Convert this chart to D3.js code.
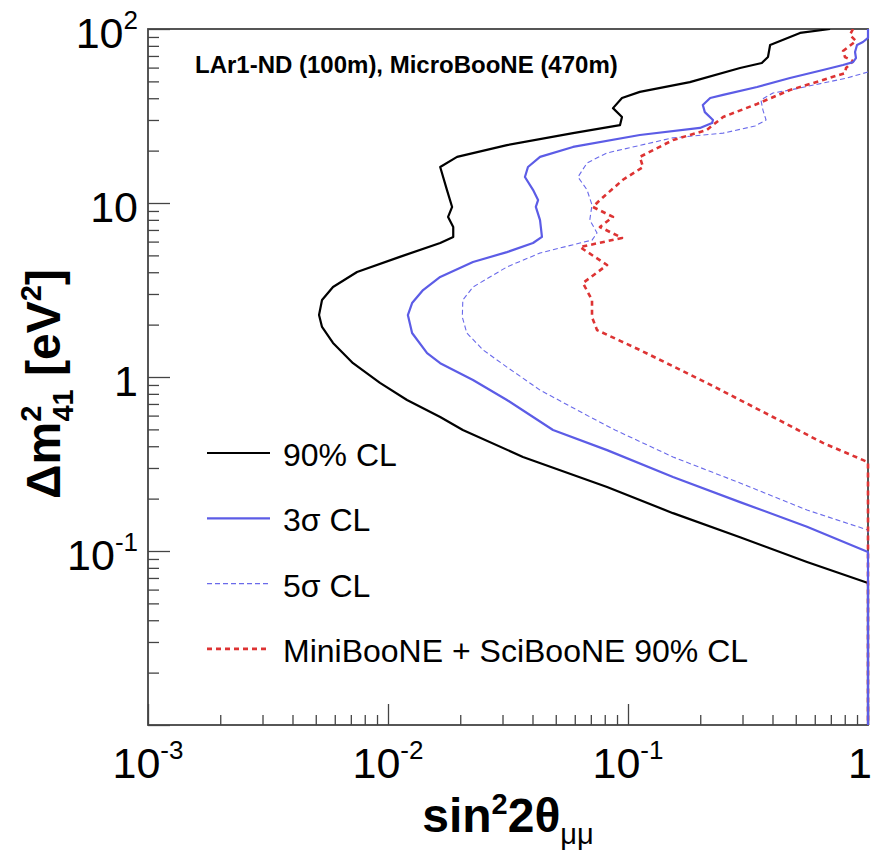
<!DOCTYPE html>
<html>
<head>
<meta charset="utf-8">
<script src="https://cdn.jsdelivr.net/npm/d3@7"></script>
<style>
  body { margin: 0; background: #fff; }
  text { font-family: "Liberation Sans", Arial, Helvetica, sans-serif; }
</style>
</head>
<body>
<svg id="chart" width="873" height="858"></svg>
<script>
/* Contours: [sin^2 2theta, dm^2 (eV^2)] */

var CL90 = [[0.695,100],[0.521,94.9],[0.391,80.9],[0.383,69.0],[0.361,63.8],[0.293,59.7],
            [0.181,49.5],[0.112,43.5],[0.0944,40.1],[0.0866,35.1],[0.0944,31.2],[0.0926,28.0],
            [0.059,25.2],[0.0313,21.5],[0.0194,18.4],[0.0165,16.1],[0.0176,11.9],[0.0185,9.49],
            [0.0178,8.32],[0.0187,7.28],[0.0187,6.38],[0.0165,5.89],[0.0112,4.90],[0.00743,4.01],
            [0.0059,3.29],[0.00531,2.77],[0.00516,2.27],[0.00531,1.94],[0.0059,1.57],[0.00715,1.20],
            [0.00926,0.925],[0.0120,0.738],[0.0165,0.589],[0.0205,0.496],[0.0365,0.347],
            [0.0818,0.233],[0.154,0.165],[0.293,0.120],[0.557,0.0865],[1,0.0655],[1,0.01]];

var SIGMA3 = [[1,100],[1,88.8],[0.953,84.2],[0.90,80.9],[0.883,73.8],[0.891,68.1],[0.866,64.5],
              [0.787,62.1],[0.649,58.1],[0.473,52.3],[0.345,46.4],[0.249,41.8],[0.220,40.1],
              [0.205,36.6],[0.209,33.3],[0.226,30.0],[0.224,28.8],[0.1995,27.0],[0.112,24.6],
              [0.059,21.0],[0.0430,18.4],[0.0383,16.1],[0.0372,14.1],[0.0402,11.9],[0.0422,10.4],
              [0.0413,9.49],[0.0430,7.98],[0.0438,6.38],[0.0402,5.89],[0.0313,5.22],[0.0226,4.58],
              [0.0165,3.76],[0.0140,3.16],[0.0126,2.66],[0.0121,2.27],[0.0126,1.79],[0.01455,1.37],
              [0.0165,1.20],[0.0226,0.962],[0.0313,0.738],[0.0487,0.496],[0.0818,0.380],
              [0.154,0.266],[0.293,0.191],[0.557,0.138],[1,0.0987],[1,0.01]];

var SIGMA5 = [[1,56.6],[0.818,52.3],[0.473,44.6],[0.402,42.9],[0.358,39.1],[0.365,34.2],
              [0.376,30.0],[0.338,27.7],[0.249,25.2],[0.154,23.7],[0.0818,19.4],[0.0675,17.0],
              [0.0619,14.1],[0.0675,11.9],[0.0708,9.75],[0.0693,7.98],[0.0743,6.73],[0.0708,6.12],
              [0.0631,5.89],[0.0430,5.16],[0.0313,4.29],[0.0226,3.29],[0.0205,2.77],[0.0204,2.21],
              [0.0213,1.79],[0.0249,1.43],[0.0313,1.14],[0.0430,0.841],[0.0695,0.589],
              [0.0883,0.496],[0.154,0.347],[0.293,0.246],[0.557,0.172],[1,0.132],[1,0.01]];

var MINISCI = [[0.866,100],[0.841,92.4],[0.891,85.3],[0.787,74.8],[0.802,69.0],[0.866,65.4],
               [0.810,59.7],[0.802,55.8],[0.649,50.9],[0.473,44.6],[0.345,37.1],[0.249,31.2],
               [0.213,26.3],[0.154,23.0],[0.112,18.4],[0.1155,16.1],[0.0953,13.6],[0.0764,10.4],
               [0.0714,9.49],[0.0866,8.32],[0.0764,7.28],[0.0944,6.30],[0.0631,5.58],[0.0818,4.40],
               [0.0649,3.47],[0.0708,2.77],[0.0708,2.21],[0.0743,1.86],[0.112,1.43],[0.213,0.925],
               [0.402,0.589],[0.649,0.418],[1,0.324],[1,0.01]];

/* Labels */

var HEADER = "LAr1-ND (100m), MicroBooNE (470m)";
var LEGEND_LABELS = ["90% CL", "3\u03c3 CL", "5\u03c3 CL", "MiniBooNE + SciBooNE 90% CL"];
var X_TICKS = [1e-3, 1e-2, 1e-1, 1],
    X_TICK_LABELS = [["10","-3"], ["10","-2"], ["10","-1"], ["1",""]];
var Y_TICKS = [100, 10, 1, 0.1],
    Y_TICK_LABELS = [["10","2"], ["10",""], ["1",""], ["10","-1"]];

/* Measures */

var W = 873,
    H = 858;

var FRAME = { left: 148, right: 868, top: 29, bottom: 725 };

var MAJOR_TICK = 21,
    MINOR_TICK = 10,
    LABEL_SIZE = 43,
    EXP_SIZE   = 26,
    TITLE_SIZE = 48,
    LEGEND_SIZE = 32;

var LEGEND = { x1: 207, x2: 270, textX: 283, top: 453, lineheight: 65.3 };

/* Styles */

var STYLES = [
  { data: CL90,    color: "#000000", width: 2.2, dash: null },
  { data: SIGMA3,  color: "#5c5ce6", width: 2.2, dash: null },
  { data: SIGMA5,  color: "#6a6aea", width: 1.1, dash: "5,3" },
  { data: MINISCI, color: "#dd3333", width: 2.6, dash: "5,4" }
];
var DRAW_ORDER = [0, 2, 3, 1];

var svg = d3.select("#chart");

var x = d3.scaleLog().domain([1e-3, 1]).range([FRAME.left, FRAME.right]);
var y = d3.scaleLog().domain([0.01, 100]).range([FRAME.bottom, FRAME.top]);

function minorTicks(scale) {
	var d = scale.domain(), out = [];
	for (var e = Math.log10(d[0]); e < Math.log10(d[1]); e++)
		for (var k = 2; k < 10; k++) out.push(k * Math.pow(10, e));
	return out;
}

svg.append("defs").append("clipPath").attr("id", "plotclip")
	.append("rect")
	.attr("x", FRAME.left).attr("y", FRAME.top)
	.attr("width", FRAME.right - FRAME.left + 2).attr("height", FRAME.bottom - FRAME.top);

/* frame */
svg.append("rect")
	.attr("x", FRAME.left).attr("y", FRAME.top)
	.attr("width", FRAME.right - FRAME.left).attr("height", FRAME.bottom - FRAME.top)
	.attr("fill", "none").attr("stroke", "#444").attr("stroke-width", 1.8);

/* ticks, pointing inward */
function drawAxis(axis, ticks, size, transform) {
	var g = svg.append("g").attr("transform", transform)
		.call(axis.tickValues(ticks).tickSize(size).tickFormat(""));
	g.select(".domain").remove();
	g.selectAll("line").attr("stroke", "#444").attr("stroke-width", 1.3);
}
drawAxis(d3.axisBottom(x), X_TICKS, -MAJOR_TICK, "translate(0," + FRAME.bottom + ")");
drawAxis(d3.axisBottom(x), minorTicks(x), -MINOR_TICK, "translate(0," + FRAME.bottom + ")");
drawAxis(d3.axisLeft(y), Y_TICKS.concat([0.01]), -MAJOR_TICK - 1, "translate(" + FRAME.left + ",0)");
drawAxis(d3.axisLeft(y), minorTicks(y), -MINOR_TICK - 1, "translate(" + FRAME.left + ",0)");

/* curves */
var line = d3.line()
	.x(function(d) { return x(d[0]); })
	.y(function(d) { return y(d[1]); });

svg.append("g").attr("clip-path", "url(#plotclip)")
	.selectAll("path")
	.data(DRAW_ORDER.map(function(i) { return STYLES[i]; }))
	.enter().append("path")
	.attr("d", function(d) { return line(d.data); })
	.attr("fill", "none")
	.attr("stroke", function(d) { return d.color; })
	.attr("stroke-width", function(d) { return d.width; })
	.attr("stroke-dasharray", function(d) { return d.dash; })
	.attr("stroke-linejoin", "round");

/* tick labels */
var xl = svg.append("g").selectAll("text")
	.data(X_TICKS)
	.enter().append("text")
	.attr("x", function(d, i) { return i === X_TICKS.length - 1 ? W - 1 : x(d); })
	.attr("y", FRAME.bottom + 53)
	.attr("text-anchor", function(d, i) { return i === X_TICKS.length - 1 ? "end" : "middle"; })
	.attr("font-size", LABEL_SIZE);
xl.append("tspan").text(function(d, i) { return X_TICK_LABELS[i][0]; });
xl.append("tspan").attr("dy", -19).attr("font-size", EXP_SIZE)
	.text(function(d, i) { return X_TICK_LABELS[i][1]; });

var yl = svg.append("g").selectAll("text")
	.data(Y_TICKS)
	.enter().append("text")
	.attr("x", FRAME.left - 10)
	.attr("y", function(d) { return y(d) + 19; })
	.attr("text-anchor", "end")
	.attr("font-size", LABEL_SIZE);
yl.append("tspan").text(function(d, i) { return Y_TICK_LABELS[i][0]; });
yl.append("tspan").attr("dy", -19).attr("font-size", EXP_SIZE)
	.text(function(d, i) { return Y_TICK_LABELS[i][1]; });

/* axis titles */
var xt = svg.append("text")
	.attr("x", (FRAME.left + FRAME.right) / 2)
	.attr("y", 832)
	.attr("text-anchor", "middle")
	.attr("font-weight", "bold")
	.attr("font-size", TITLE_SIZE);
xt.append("tspan").text("sin");
xt.append("tspan").attr("dy", -18).attr("font-size", 29).text("2");
xt.append("tspan").attr("dy", 18).text("2\u03b8");
xt.append("tspan").attr("dy", 12).attr("font-size", 29).attr("font-weight", "normal").text("\u03bc\u03bc");

var yt = svg.append("text")
	.attr("transform", "translate(60,384) rotate(-90)")
	.attr("text-anchor", "middle")
	.attr("font-weight", "bold")
	.attr("font-size", TITLE_SIZE);
yt.append("tspan").text("\u0394m");
yt.append("tspan").attr("dy", -19).attr("font-size", 29).text("2");
yt.append("tspan").attr("dx", -16).attr("dy", 32).attr("font-size", 29).text("41");
yt.append("tspan").attr("dy", -13).text(" [eV");
yt.append("tspan").attr("dy", -19).attr("font-size", 29).text("2");
yt.append("tspan").attr("dy", 19).text("]");

/* header */
svg.append("text")
	.attr("x", 195).attr("y", 73)
	.attr("font-weight", "bold")
	.attr("font-size", 24)
	.text(HEADER);

/* legend */
var leg = svg.append("g").selectAll("g")
	.data(STYLES)
	.enter().append("g")
	.attr("transform", function(d, i) { return "translate(0," + (LEGEND.top + i * LEGEND.lineheight) + ")"; });
leg.append("line")
	.attr("x1", LEGEND.x1).attr("x2", LEGEND.x2)
	.attr("stroke", function(d) { return d.color; })
	.attr("stroke-width", function(d) { return d.width; })
	.attr("stroke-dasharray", function(d) { return d.dash; });
leg.append("text")
	.attr("x", LEGEND.textX).attr("y", 13)
	.attr("font-size", LEGEND_SIZE)
	.text(function(d, i) { return LEGEND_LABELS[i]; });
</script>
</body>
</html>
